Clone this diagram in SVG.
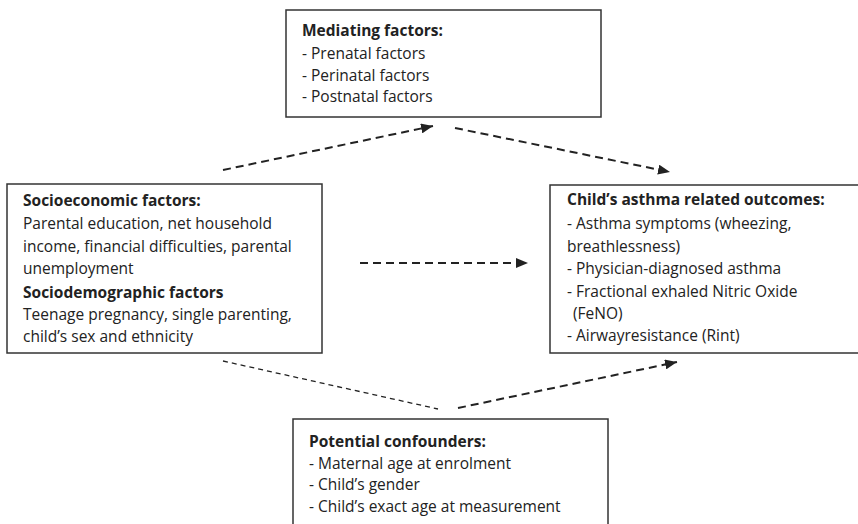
<svg xmlns="http://www.w3.org/2000/svg" width="858" height="524" viewBox="0 0 858 524">
<style>
.box{fill:#fff;stroke:#333;stroke-width:1.5}
text{font-family:"Open Sans","Noto Sans",sans-serif;font-size:15.5px;fill:#222}
.b{font-weight:bold}
.dash{fill:none;stroke:#222;stroke-width:2;stroke-dasharray:8,5}
.thin{fill:none;stroke:#222;stroke-width:1.3;stroke-dasharray:5,4}
</style>
<defs>
<marker id="ah" markerWidth="12" markerHeight="10" refX="12" refY="5" orient="auto" markerUnits="userSpaceOnUse">
<path d="M0,0 L12,5 L0,10 Z" fill="#222"/>
</marker>
</defs>
<rect width="858" height="524" fill="#fff"/>
<g id="mediating">
<rect class="box" x="286" y="10" width="315" height="107"/>
<text x="302" y="36" class="b">Mediating factors:</text>
<text x="302" y="59">- Prenatal factors</text>
<text x="302" y="81">- Perinatal factors</text>
<text x="302" y="102">- Postnatal factors</text>
</g>
<g id="socio">
<rect class="box" x="7" y="184" width="315" height="169"/>
<text x="23" y="206" class="b">Socioeconomic factors:</text>
<text x="23" y="229">Parental education, net household</text>
<text x="23" y="252">income, financial difficulties, parental</text>
<text x="23" y="274">unemployment</text>
<text x="23" y="298" class="b">Sociodemographic factors</text>
<text x="23" y="320">Teenage pregnancy, single parenting,</text>
<text x="23" y="342">child’s sex and ethnicity</text>
</g>
<g id="outcomes">
<rect class="box" x="550" y="185" width="315" height="168"/>
<text x="567" y="205" class="b">Child’s asthma related outcomes:</text>
<text x="567" y="229">- Asthma symptoms (wheezing,</text>
<text x="567" y="252">breathlessness)</text>
<text x="567" y="274">- Physician-diagnosed asthma</text>
<text x="567" y="297">- Fractional exhaled Nitric Oxide</text>
<text x="573" y="319">(FeNO)</text>
<text x="567" y="341">- Airwayresistance (Rint)</text>
</g>
<g id="confounders">
<rect class="box" x="293" y="419" width="315" height="115"/>
<text x="309" y="447" class="b">Potential confounders:</text>
<text x="309" y="469">- Maternal age at enrolment</text>
<text x="309" y="490">- Child’s gender</text>
<text x="309" y="512">- Child’s exact age at measurement</text>
</g>
<g id="connectors">
<line class="dash" x1="223" y1="170" x2="433" y2="126" marker-end="url(#ah)"/>
<line class="dash" x1="455" y1="128" x2="670" y2="172" marker-end="url(#ah)"/>
<line class="dash" x1="360" y1="263" x2="528" y2="263" marker-end="url(#ah)"/>
<line class="thin" x1="223" y1="361" x2="438" y2="409"/>
<line class="dash" x1="458" y1="408" x2="677" y2="362" marker-end="url(#ah)"/>
</g>
</svg>
